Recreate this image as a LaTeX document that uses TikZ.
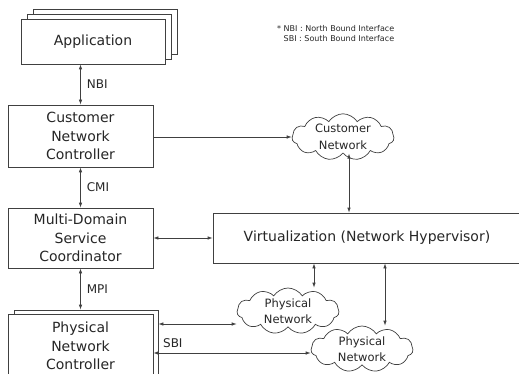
\documentclass[tikz,border=0pt]{standalone}
\usepackage{fontspec}
\setmainfont{DejaVu Sans}
\usetikzlibrary{arrows.meta,shapes.symbols}

\begin{document}
\begin{tikzpicture}[x=1pt, y=-1pt,
		caja/.style={draw=black!75, line width=0.7pt, fill=white, text=black!85, align=center, inner sep=0pt, font=\fontsize{14}{18.5}\selectfont},
		nube/.style={cloud, cloud puffs=11, cloud puff arc=115, cloud ignores aspect, draw=black!75, line width=0.7pt, fill=white, text=black!85, align=center, inner sep=0pt, minimum width=102pt, minimum height=46pt, font=\fontsize{11.5}{16.5}\selectfont},
		flecha/.style={draw=black!75, line width=0.7pt, {Latex[length=5pt,width=3.5pt]}-{Latex[length=5pt,width=3.5pt]}},
		etiqueta/.style={text=black!85, inner sep=0pt, anchor=west, font=\fontsize{12}{14}\selectfont}]
		\useasboundingbox (0,0) rectangle (519,374);
		\clip (0,0) rectangle (519,374);

		% Aplicaciones apiladas
		\node[caja, minimum width=144pt, minimum height=45pt] (app3) at (105,31.5) {};
		\node[caja, minimum width=144pt, minimum height=45pt] (app2) at (99,37) {};
		\node[caja, minimum width=144pt, minimum height=45pt] (app) at (93,41.5) {Application};

		% Controladores
		\node[caja, minimum width=145pt, minimum height=62pt] (cnc) at (80.5,136) {Customer\\Network\\Controller};
		\node[caja, minimum width=145pt, minimum height=60pt] (mdsc) at (80.5,238) {Multi-Domain\\Service\\Coordinator};
		\node[caja, minimum width=144pt, minimum height=64pt] (pncback) at (86,342) {};
		\node[caja, minimum width=145pt, minimum height=64pt] (pnc) at (80.5,346) {Physical\\Network\\Controller};

		% Hipervisor
		\node[caja, minimum width=308pt, minimum height=50pt] (virt) at (367,238) {Virtualization (Network Hypervisor)};

		% Nubes
		\node[nube] (custnet) at (343,137) {Customer\\Network};
		\node[nube] (phys1) at (288,311) {Physical\\Network};
		\node[nube] (phys2) at (362,349) {Physical\\Network};

		% Interfaces verticales
		\draw[flecha] (cnc.north) -- (cnc.north |- app.south) node[etiqueta, midway, xshift=6pt] {NBI};
		\draw[flecha] (mdsc.north) -- (cnc.south) node[etiqueta, midway, xshift=6pt] {CMI};
		\draw[flecha] (pncback.north -| pnc) -- (mdsc.south) node[etiqueta, midway, xshift=6pt] {MPI};

		% Conexiones a la derecha
		\draw[flecha, {-Latex[length=5pt,width=3.5pt]}] (cnc.east |- custnet.west) -- (custnet.west);
		\draw[flecha] ([xshift=6pt]custnet.south) -- ([xshift=6pt]custnet.south |- virt.north);
		\draw[flecha] (mdsc.east) -- (virt.west);
		\draw[flecha] ([xshift=26pt]phys1.north) -- ([xshift=26pt]phys1.north |- virt.south);
		\draw[flecha] ([xshift=23pt]phys2.north) -- ([xshift=23pt]phys2.north |- virt.south);
		\draw[flecha] ([yshift=-13pt]phys1.west -| pncback.east) -- ([yshift=-13pt]phys1.west);
		\draw[flecha] ([yshift=-4pt]phys2.west -| pnc.east) -- ([yshift=-4pt]phys2.west) node[etiqueta, pos=0.06, anchor=south west, yshift=5pt] {SBI};

		% Leyenda
		\node[text=black!85, inner sep=0pt, anchor=north west, align=left, font=\fontsize{8}{10.5}\selectfont] (leyenda) at (277,25) {* NBI : North Bound Interface\\\phantom{* }SBI : South Bound Interface};
	\end{tikzpicture}
\end{document}
